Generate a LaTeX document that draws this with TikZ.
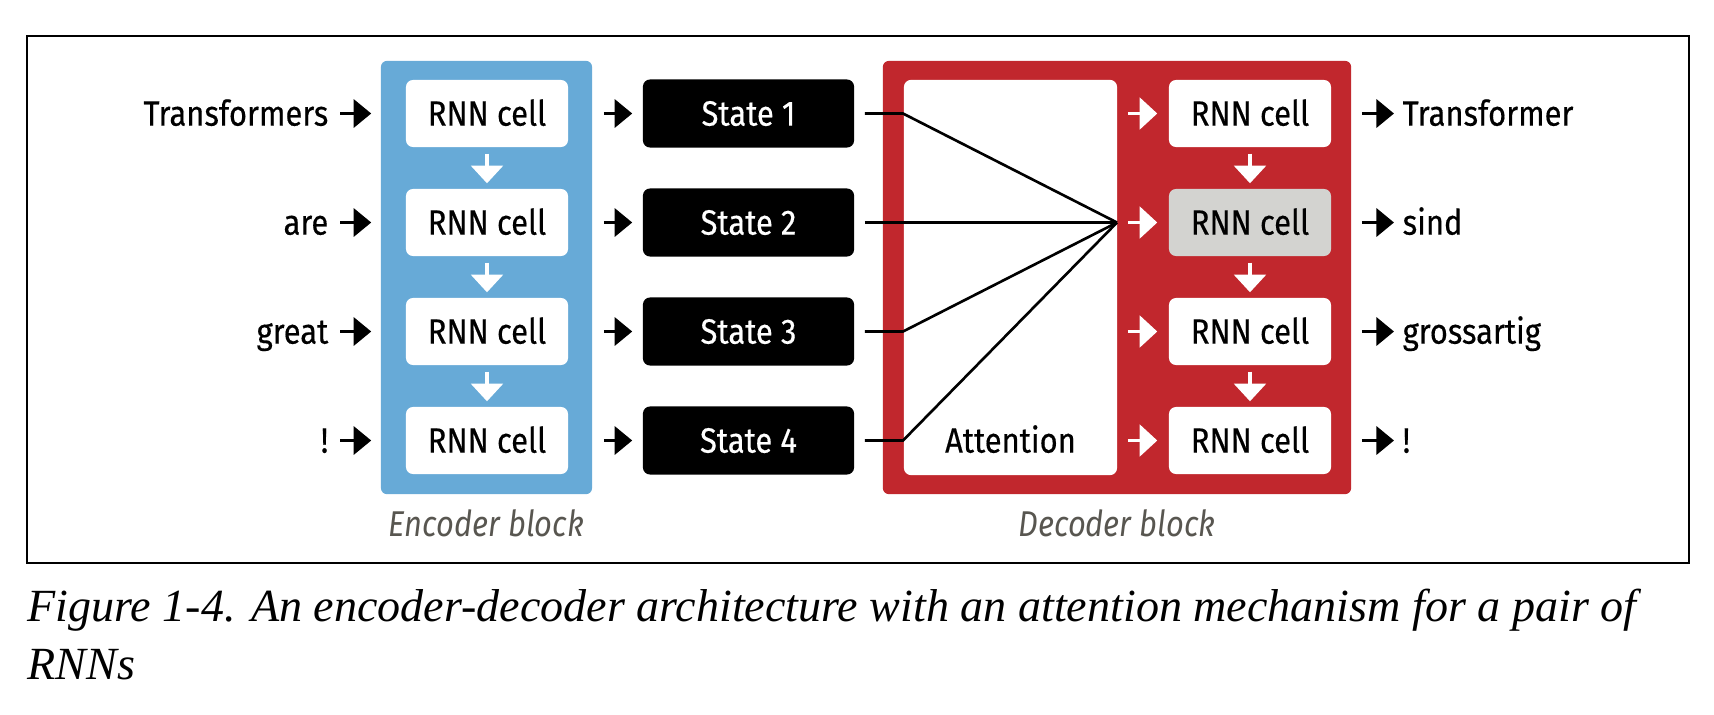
\documentclass[tikz,border=0pt]{standalone}
\usepackage{fontspec}
\setmainfont{Liberation Serif}
\newfontfamily\rnnfont{Fira Sans}[FakeStretch=0.88,FakeBold=0.4]
\newfontfamily\rnnlabelfont{Fira Sans}[FakeStretch=0.86]
\usetikzlibrary{arrows.meta}
\definecolor{encblue}{RGB}{103,170,215}
\definecolor{decred}{RGB}{193,39,45}
\definecolor{cellgray}{RGB}{211,211,208}
\definecolor{labelgray}{RGB}{88,86,80}
\begin{document}
\begin{tikzpicture}
[x=0.01cm,y=-0.01cm,font=\rnnfont\fontsize{10}{12}\selectfont,%
  blockdecorate/.style={shape=rectangle,rounded corners=1.7pt,inner sep=0pt,minimum height=4.33cm},%
  celldecorate/.style={shape=rectangle,fill=white,rounded corners=2pt,inner sep=0pt,%
    minimum width=1.62cm,minimum height=0.67cm,text height=6.9pt,text depth=0pt},%
  statedecorate/.style={celldecorate,fill=black,text=white,minimum width=2.11cm,minimum height=0.68cm},%
  worddecorate/.style={inner sep=0pt,text height=6.9pt,text depth=0pt},%
  blocklabeldecorate/.style={inner sep=0pt,text=labelgray,font=\rnnlabelfont\itshape\fontsize{10.2}{12}\selectfont},%
  captiondecorate/.style={inner sep=0pt,anchor=base west,font=\rmfamily\itshape\fontsize{13.1}{15}\selectfont},%
  arrowdecorate/.style={-{Triangle[length=5pt,width=8pt]},line width=0.9pt},%
  whitearrowdecorate/.style={-{Triangle[length=5pt,width=9pt]},line width=0.9pt,white},%
  linedecorate/.style={-,line width=0.75pt}]
\useasboundingbox (0,0) rectangle (1714,714);
% frame
\draw[line width=0.5pt] (27,36) rectangle (1689,563);
% blocks
\node (enc) at (486.5,277.5) [blockdecorate,fill=encblue,minimum width=2.11cm] {};
\node (dec) at (1117,277.5) [blockdecorate,fill=decred,minimum width=4.68cm] {};
\node (att) at (1010.5,277.5) [celldecorate,minimum width=2.13cm,minimum height=3.95cm] {};
\node (atttext) at (1010.5,440.5) [worddecorate] {Attention};
% encoder cells
\node (e1) at (487,113.5) [celldecorate] {RNN cell};
\node (e2) at (487,222.5) [celldecorate] {RNN cell};
\node (e3) at (487,331.5) [celldecorate] {RNN cell};
\node (e4) at (487,440.5) [celldecorate] {RNN cell};
% states
\node (s1) at (748.5,113.5) [statedecorate] {State 1};
\node (s2) at (748.5,222.5) [statedecorate] {State 2};
\node (s3) at (748.5,331.5) [statedecorate] {State 3};
\node (s4) at (748.5,440.5) [statedecorate] {State 4};
% decoder cells
\node (d1) at (1250,113.5) [celldecorate] {RNN cell};
\node (d2) at (1250,222.5) [celldecorate,fill=cellgray] {RNN cell};
\node (d3) at (1250,331.5) [celldecorate] {RNN cell};
\node (d4) at (1250,440.5) [celldecorate] {RNN cell};
% input and output words
\node (in1) at (329,113.5) [worddecorate,anchor=east] {Transformers};
\node (in2) at (329,222.5) [worddecorate,anchor=east] {are};
\node (in3) at (329,331.5) [worddecorate,anchor=east] {great};
\node (in4) at (329,440.5) [worddecorate,anchor=east] {!};
\node (out1) at (1402,113.5) [worddecorate,anchor=west] {Transformer};
\node (out2) at (1402,222.5) [worddecorate,anchor=west] {sind};
\node (out3) at (1402,331.5) [worddecorate,anchor=west] {grossartig};
\node (out4) at (1402,440.5) [worddecorate,anchor=west] {!};
% block labels and caption
\node (enclabel) at (486.5,523) [blocklabeldecorate] {Encoder block};
\node (declabel) at (1117,523) [blocklabeldecorate] {Decoder block};
\node (cap1) at (27,621) [captiondecorate] {Figure 1-4. An encoder-decoder architecture with an attention mechanism for a pair of};
\node (cap2) at (27,679) [captiondecorate] {RNNs};
% attention lines
\coordinate (focus) at (1117,222.5);
\coordinate (k1) at (903,113.5);
\coordinate (k3) at (903,331.5);
\coordinate (k4) at (903,440.5);
\draw[linedecorate] ([xshift=0.1cm]s1.east) -- (k1) -- (focus);
\draw[linedecorate] ([xshift=0.1cm]s2.east) -- (focus);
\draw[linedecorate] ([xshift=0.1cm]s3.east) -- (k3) -- (focus);
\draw[linedecorate] ([xshift=0.1cm]s4.east) -- (k4) -- (focus);
% edges or arrows
\path
(in1) edge[arrowdecorate,shorten <=0.11cm,shorten >=0.34cm] (e1)
(in2) edge[arrowdecorate,shorten <=0.11cm,shorten >=0.34cm] (e2)
(in3) edge[arrowdecorate,shorten <=0.11cm,shorten >=0.34cm] (e3)
(in4) edge[arrowdecorate,shorten <=0.11cm,shorten >=0.34cm] (e4)
(e1) edge[arrowdecorate,shorten <=0.35cm,shorten >=0.10cm] (s1)
(e2) edge[arrowdecorate,shorten <=0.35cm,shorten >=0.10cm] (s2)
(e3) edge[arrowdecorate,shorten <=0.35cm,shorten >=0.10cm] (s3)
(e4) edge[arrowdecorate,shorten <=0.35cm,shorten >=0.10cm] (s4)
(e1) edge[whitearrowdecorate,shorten <=0.06cm,shorten >=0.05cm] (e2)
(e2) edge[whitearrowdecorate,shorten <=0.06cm,shorten >=0.05cm] (e3)
(e3) edge[whitearrowdecorate,shorten <=0.06cm,shorten >=0.05cm] (e4)
(d1) edge[whitearrowdecorate,shorten <=0.06cm,shorten >=0.05cm] (d2)
(d2) edge[whitearrowdecorate,shorten <=0.06cm,shorten >=0.05cm] (d3)
(d3) edge[whitearrowdecorate,shorten <=0.06cm,shorten >=0.05cm] (d4)
(att.east |- d1) edge[whitearrowdecorate,shorten <=0.10cm,shorten >=0.11cm] (d1)
(att.east |- d2) edge[whitearrowdecorate,shorten <=0.10cm,shorten >=0.11cm] (d2)
(att.east |- d3) edge[whitearrowdecorate,shorten <=0.10cm,shorten >=0.11cm] (d3)
(att.east |- d4) edge[whitearrowdecorate,shorten <=0.10cm,shorten >=0.11cm] (d4)
(d1) edge[arrowdecorate,shorten <=0.30cm,shorten >=0.08cm] (out1)
(d2) edge[arrowdecorate,shorten <=0.30cm,shorten >=0.08cm] (out2)
(d3) edge[arrowdecorate,shorten <=0.30cm,shorten >=0.08cm] (out3)
(d4) edge[arrowdecorate,shorten <=0.30cm,shorten >=0.08cm] (out4);
\end{tikzpicture}
\end{document}
